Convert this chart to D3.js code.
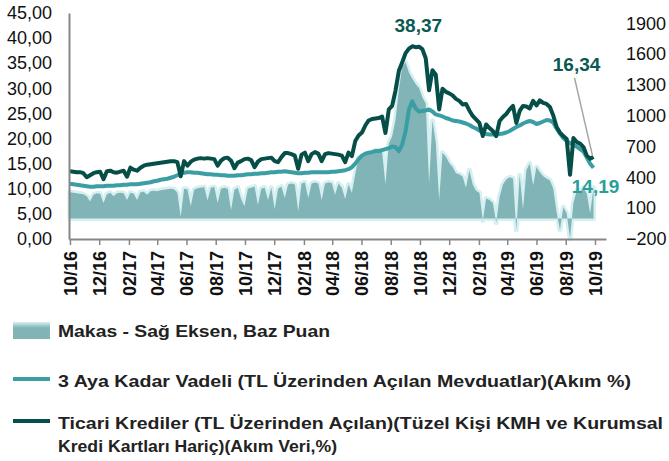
<!DOCTYPE html>
<html>
<head>
<meta charset="utf-8">
<script src="https://cdn.jsdelivr.net/npm/d3@7"></script>
<style>
  body { margin: 0; background: #fff; }
  svg { display: block; font-family: "Liberation Sans", Arial, sans-serif; }
</style>
</head>
<body>
<script>
// weekly observations, starting 1 Oct 2016
var startDate = new Date(2016, 9, 1);

// Makas - right axis, basis points
var makas = [
  255, 250, 245, 240, 235, 215, 165, 230, 245, 240,
  150, 235, 250, 215, 245, 250, 245, 180, 250, 240,
  180, 255, 260, 230, 265, 270, 265, 275, 280, 285,
  290, 285, 250, 15, 290, 285, 120, 280, 295, 300,
  305, 175, 300, 305, 150, 290, 300, 290, 80, 280,
  300, 190, 120, 290, 300, 310, 130, 290, 300, 180,
  300, 90, 290, 310, 200, 330, 340, 330, 70, 340,
  350, 200, 340, 350, 340, 180, 340, 350, 345, 230,
  340, 300, 190, 330, 250, 430, 590, 610, 620, 635,
  650, 660, 665, 650, 330, 730, 800, 960, 1250, 1480,
  1520, 1420, 1360, 1310, 1270, 1180, 1120, 340, 950, 740,
  180, 640, 600, 540, 500, 440, 430, 405, 300, 470,
  330, 270, 250, -20, 195, 180, 150, -40, 210, 330,
  380, 400, 390, -110, 420, 90, 470, 535, 320, 500,
  450, 410, 390, 370, 290, 60, -110, 110, 50, -195,
  150, 270, 260, 300, 240, 50, 300
];

// 3 Aya Kadar Vadeli mevduat, %
var mevduat = [
  11.0, 10.9, 10.8, 10.7, 10.6, 10.5, 10.4, 10.4, 10.5, 10.5,
  10.5, 10.6, 10.6, 10.6, 10.7, 10.7, 10.8, 10.8, 10.9, 10.9,
  10.9, 11.0, 11.1, 11.2, 11.3, 11.5, 11.6, 11.8, 11.9, 12.0,
  12.2, 12.4, 12.7, 13.0, 13.2, 13.3, 13.3, 13.2, 13.2, 13.1,
  13.0, 12.9, 12.9, 12.8, 12.8, 12.7, 12.7, 12.6, 12.6, 12.6,
  12.7, 12.7, 12.8, 12.9, 12.9, 13.0, 13.0, 13.1, 13.1, 13.2,
  13.3, 13.3, 13.4, 13.4, 13.5, 13.4, 13.3, 13.2, 13.1, 13.1,
  13.2, 13.2, 13.3, 13.3, 13.3, 13.3, 13.3, 13.3, 13.4, 13.4,
  13.5, 13.6, 13.7, 13.9, 14.3, 15.0, 15.9, 16.6, 17.0, 17.2,
  17.3, 17.5, 17.5, 17.7, 17.9, 18.1, 18.4, 18.3, 17.5, 18.8,
  21.5, 25.8, 27.4, 26.0, 25.4, 25.5, 25.6, 25.8, 25.4, 24.8,
  24.6, 24.4, 24.1, 23.9, 23.6, 23.5, 23.4, 23.2, 23.0, 22.7,
  22.3, 22.0, 21.6, 21.1, 20.9, 20.8, 20.8, 20.8, 20.9, 21.0,
  21.2, 21.5, 21.9, 22.3, 22.6, 23.0, 23.3, 23.5, 23.3, 22.9,
  23.1, 23.4, 23.7, 23.6, 23.2, 22.0, 21.0, 20.1, 19.5, 19.1,
  18.7, 18.4, 17.9, 17.4, 16.2, 15.0, 14.19
];

// Ticari krediler, %
var ticari = [
  13.5, 13.4, 13.3, 13.3, 13.1, 12.3, 12.7, 13.1, 13.3, 13.4,
  11.9, 13.5, 13.6, 13.3, 13.2, 13.4, 13.6, 12.4, 14.2, 13.8,
  13.6, 14.2, 14.6, 14.8, 14.9, 15.0, 15.1, 15.2, 15.3, 15.4,
  15.5, 15.5, 15.3, 12.5, 15.5, 14.6, 15.4, 15.8, 16.0, 16.1,
  16.0, 16.1, 16.0, 15.9, 14.6, 15.6, 16.1, 16.2, 15.6, 14.1,
  15.2, 15.5, 15.9, 16.0, 15.7, 14.3, 15.4, 15.9, 16.0, 16.1,
  16.2, 15.5, 15.3, 16.3, 17.1, 17.1, 16.9, 16.6, 14.0, 16.8,
  17.2, 15.5, 16.9, 17.3, 17.0, 15.5, 16.9, 17.1, 17.0, 16.9,
  16.8, 16.6, 15.3, 17.2, 16.5, 19.5, 20.6, 21.2, 22.6, 23.6,
  23.9, 24.0, 24.1, 24.4, 21.1, 25.8, 26.5, 29.6, 33.5, 35.2,
  37.0, 37.9, 38.37, 38.2, 38.3, 37.8, 36.0, 29.6, 33.6, 32.7,
  25.8, 29.9, 29.3, 29.0, 28.6, 27.9, 27.5, 26.8, 26.9, 25.6,
  24.5, 23.8, 23.1, 20.5, 22.8, 22.1, 21.5, 20.5, 23.5, 24.3,
  24.9, 25.8, 26.5, 23.1, 25.5, 26.5, 26.4, 26.0, 27.5, 26.6,
  27.6, 27.1, 26.9, 26.3, 24.6, 22.3, 21.2, 20.5, 19.9, 12.8,
  20.1, 19.3, 19.0, 18.3, 16.6, 16.0, 16.34
];

var tickLabels = ["10/16", "12/16", "02/17", "04/17", "06/17", "08/17", "10/17", "12/17",
  "02/18", "04/18", "06/18", "08/18", "10/18", "12/18", "02/19", "04/19", "06/19", "08/19", "10/19"];

var leftTicks = [0, 5, 10, 15, 20, 25, 30, 35, 40, 45];
var rightTicks = [-200, 100, 400, 700, 1000, 1300, 1600, 1900];

var legendItems = [
  { lines: ["Makas - Sağ Eksen, Baz Puan"], widths: [272] },
  { lines: ["3 Aya Kadar Vadeli (TL Üzerinden Açılan Mevduatlar)(Akım %)"], widths: [573] },
  { lines: ["Ticari Krediler (TL Üzerinden Açılan)(Tüzel Kişi KMH ve Kurumsal",
            "Kredi Kartları Hariç)(Akım Veri,%)"], widths: [605, 279] }
];

var colors = {
  area: '#80b4b6',
  glow: '#d6eff1',
  teal: '#3a9ea4',
  dark: '#064f48',
  axis: '#868686',
  label: '#0b5a52',
  tealLabel: '#2a9f9a'
};

var dates = makas.map(function(d, i) { return d3.timeDay.offset(startDate, i * 7); });
var data = dates.map(function(d, i) {
  return { date: d, makas: makas[i], mevduat: mevduat[i], ticari: ticari[i] };
});

var width = 669, height = 461;
var plot = { left: 69, right: 606, top: 13, bottom: 239 };

var svg = d3.select("body").append("svg")
  .attr("width", width)
  .attr("height", height);

var x = d3.scaleTime()
  .domain([new Date(2016, 8, 29), new Date(2019, 9, 24)])
  .range([plot.left, plot.right]);
var yL = d3.scaleLinear().domain([0, 45]).range([plot.bottom, plot.top]);
var yR = d3.scaleLinear().domain([-200, 2000]).range([plot.bottom, plot.top]);

// area (right axis) with light glow
var area = d3.area()
  .x(function(d) { return x(d.date); })
  .y0(yR(0))
  .y1(function(d) { return yR(d.makas); });

svg.append("path").datum(data)
  .attr("d", area)
  .attr("fill", colors.glow)
  .attr("stroke", colors.glow)
  .attr("stroke-width", 5)
  .attr("stroke-linejoin", "round");

svg.append("path").datum(data)
  .attr("d", area)
  .attr("fill", colors.area);

var lineMev = d3.line()
  .x(function(d) { return x(d.date); })
  .y(function(d) { return yL(d.mevduat); });
var lineTic = d3.line()
  .x(function(d) { return x(d.date); })
  .y(function(d) { return yL(d.ticari); });

svg.append("path").datum(data)
  .attr("d", lineMev)
  .attr("fill", "none")
  .attr("stroke", colors.teal)
  .attr("stroke-width", 4)
  .attr("stroke-linejoin", "round");

svg.append("path").datum(data)
  .attr("d", lineTic)
  .attr("fill", "none")
  .attr("stroke", colors.dark)
  .attr("stroke-width", 4)
  .attr("stroke-linejoin", "round");

// left axis
var fmt = function(d) { return d3.format(".2f")(d).replace(".", ","); };
var gl = svg.append("g")
  .attr("transform", "translate(" + plot.left + ",0)")
  .call(d3.axisLeft(yL).tickValues(leftTicks).tickFormat(fmt).tickSize(0).tickPadding(17));
gl.select(".domain").attr("stroke", colors.axis).attr("stroke-width", 2);
gl.selectAll("text").attr("font-size", 18).attr("fill", "#111").attr("font-family", null);

// right axis
var gr = svg.append("g")
  .attr("transform", "translate(" + plot.right + ",0)")
  .call(d3.axisRight(yR).tickValues(rightTicks).tickFormat(d3.format("d")).tickSize(0).tickPadding(20));
gr.select(".domain").remove();
gr.selectAll("text").attr("font-size", 18).attr("fill", "#111").attr("font-family", null);

// bottom axis
var parseTick = d3.timeParse("%m/%y");
var gb = svg.append("g")
  .attr("transform", "translate(0," + plot.bottom + ")")
  .call(d3.axisBottom(x)
    .tickValues(tickLabels.map(parseTick))
    .tickFormat(d3.timeFormat("%m/%y"))
    .tickSizeInner(6).tickSizeOuter(0));
gb.select(".domain").attr("stroke", colors.axis).attr("stroke-width", 2);
gb.selectAll(".tick line").attr("stroke", colors.axis).attr("stroke-width", 1.5);
gb.selectAll("text")
  .attr("font-size", 18)
  .attr("font-weight", "bold")
  .attr("fill", "#111")
  .attr("font-family", null)
  .attr("transform", "rotate(-90)")
  .attr("x", -12)
  .attr("y", 0)
  .attr("dy", "0.35em")
  .style("text-anchor", "end");

// annotations
var peakI = d3.maxIndex(ticari);
var lastI = ticari.length - 1;
var lastX = x(dates[lastI]);

svg.append("text")
  .attr("x", x(dates[peakI]) + 6)
  .attr("y", yL(ticari[peakI]) - 14)
  .attr("text-anchor", "middle")
  .attr("font-size", 19).attr("font-weight", "bold")
  .attr("fill", colors.label)
  .text(fmt(ticari[peakI]));

svg.append("line")
  .attr("x1", lastX - 19).attr("y1", 78)
  .attr("x2", lastX - 1).attr("y2", yL(ticari[lastI]) - 1)
  .attr("stroke", "#a6a6a6").attr("stroke-width", 1.5);

svg.append("text")
  .attr("x", lastX - 17)
  .attr("y", 71)
  .attr("text-anchor", "middle")
  .attr("font-size", 19).attr("font-weight", "bold")
  .attr("fill", colors.label)
  .text(fmt(ticari[lastI]));

svg.append("text")
  .attr("x", lastX + 2)
  .attr("y", yL(mevduat[lastI]) + 25)
  .attr("text-anchor", "middle")
  .attr("font-size", 19).attr("font-weight", "bold")
  .attr("fill", colors.tealLabel)
  .text(fmt(mevduat[lastI]));

// legend
var defs = svg.append("defs");
var grad = defs.append("linearGradient").attr("id", "makasGrad")
  .attr("x1", 0).attr("y1", 0).attr("x2", 0).attr("y2", 1);
grad.append("stop").attr("offset", "0%").attr("stop-color", colors.glow);
grad.append("stop").attr("offset", "35%").attr("stop-color", colors.area);
grad.append("stop").attr("offset", "100%").attr("stop-color", colors.area);

var legendY = [331, 381, 423];
var legend = svg.append("g");

legend.append("rect")
  .attr("x", 13).attr("y", legendY[0] - 9)
  .attr("width", 37).attr("height", 17)
  .attr("fill", "url(#makasGrad)");
legend.append("line")
  .attr("x1", 13).attr("x2", 50).attr("y1", legendY[1] - 2).attr("y2", legendY[1] - 2)
  .attr("stroke", colors.teal).attr("stroke-width", 4);
legend.append("line")
  .attr("x1", 13).attr("x2", 50).attr("y1", legendY[2] - 2).attr("y2", legendY[2] - 2)
  .attr("stroke", colors.dark).attr("stroke-width", 4);

legendItems.forEach(function(item, i) {
  item.lines.forEach(function(line, j) {
    legend.append("text")
      .attr("x", 58)
      .attr("y", legendY[i] + j * 23)
      .attr("dy", "0.35em")
      .attr("font-size", 17)
      .attr("font-weight", "bold")
      .attr("fill", "#222")
      .attr("textLength", item.widths[j])
      .attr("lengthAdjust", "spacingAndGlyphs")
      .text(line);
  });
});
</script>
</body>
</html>
